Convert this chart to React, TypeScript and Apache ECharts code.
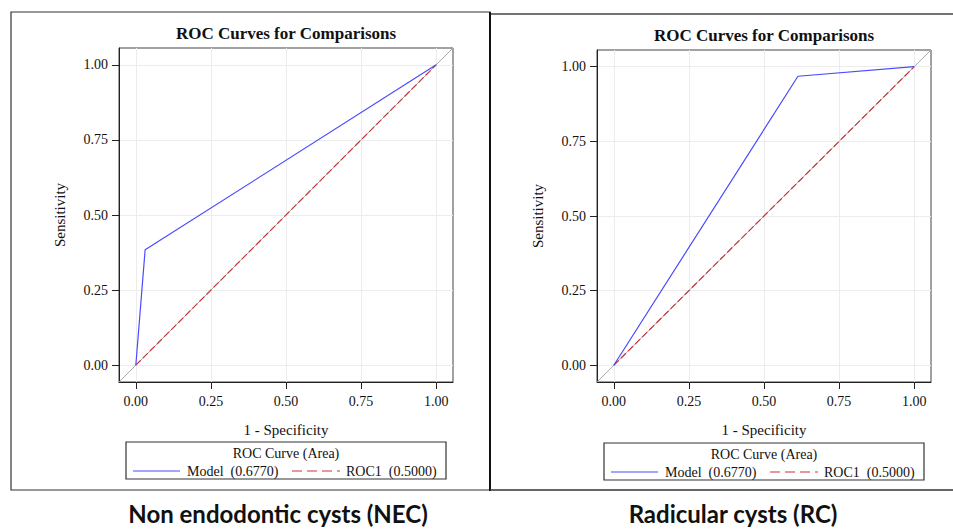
import React, { useEffect, useRef } from "react";
import * as echarts from "echarts";

const tickValues = [0, 0.25, 0.5, 0.75, 1];
const axisMin = -0.056;
const axisMax = 1.056;

const modelNEC: [number, number][] = [[0, 0], [0.031, 0.384], [1, 1]];
const modelRC: [number, number][] = [[0, 0], [0.613, 0.968], [1, 1]];
const roc1: [number, number][] = [[0, 0], [1, 1]];
const diagonal: [number, number][] = [[axisMin, axisMin], [axisMax, axisMax]];

const modelName = "Model\u00a0 (0.6770)";
const roc1Name = "ROC1\u00a0 (0.5000)";
const chartTitle = "ROC Curves for Comparisons";
const xName = "1 - Specificity";
const yName = "Sensitivity";
const legendTitle = "ROC Curve (Area)";
const panelLabels = ["Non endodontic cysts (NEC)", "Radicular cysts (RC)"];

const SERIF = "'Liberation Serif', 'DejaVu Serif', serif";
const BLUE = "#4a4aff";
const RED = "#c8323c";

export default function App() {
  const ref = useRef<HTMLDivElement>(null);
  useEffect(() => {
    if (!ref.current) return;
    const chart = echarts.init(ref.current, null, { renderer: "svg" });

    const grids = [
      { left: 119, top: 48, width: 334, height: 334 },
      { left: 597, top: 50, width: 334, height: 332 },
    ];

    const labelCommon = {
      customValues: tickValues,
      fontFamily: SERIF,
      fontSize: 14,
      color: "#111",
      formatter: (v: number) => v.toFixed(2),
    };

    const mkX = (i: number) => ({
      type: "value",
      gridIndex: i,
      min: axisMin,
      max: axisMax,
      name: xName,
      nameLocation: "middle",
      nameGap: 40,
      nameTextStyle: { fontFamily: SERIF, fontSize: 15, color: "#111" },
      axisLine: { show: true, onZero: false, lineStyle: { color: "#222", width: 1 } },
      axisTick: { show: true, length: 7, customValues: tickValues, lineStyle: { color: "#222" } },
      axisLabel: { ...labelCommon, margin: 12 },
      splitLine: { show: true, lineStyle: { color: "#ececec", width: 1 } },
    });
    const mkY = (i: number) => ({
      type: "value",
      gridIndex: i,
      min: axisMin,
      max: axisMax,
      name: yName,
      nameLocation: "middle",
      nameGap: 52,
      nameTextStyle: { fontFamily: SERIF, fontSize: 15, color: "#111" },
      axisLine: { show: true, onZero: false, lineStyle: { color: "#222", width: 1 } },
      axisTick: { show: true, length: 7, customValues: tickValues, lineStyle: { color: "#222" } },
      axisLabel: { ...labelCommon, margin: 11 },
      splitLine: { show: true, lineStyle: { color: "#ececec", width: 1 } },
    });

    const mkSeries = (i: number, model: [number, number][]) => [
      {
        name: "Reference",
        type: "line",
        xAxisIndex: i,
        yAxisIndex: i,
        data: diagonal,
        symbol: "none",
        silent: true,
        lineStyle: { color: "#a8a8a8", width: 1 },
        z: 1,
      },
      {
        name: roc1Name,
        type: "line",
        xAxisIndex: i,
        yAxisIndex: i,
        data: roc1,
        symbol: "none",
        lineStyle: { color: RED, width: 1.2, type: [7, 3] },
        z: 2,
      },
      {
        name: modelName,
        type: "line",
        xAxisIndex: i,
        yAxisIndex: i,
        data: model,
        symbol: "none",
        lineStyle: { color: BLUE, width: 1.2 },
        z: 3,
      },
    ];

    const textG = (x: number, y: number, text: string, font: string, weight: string, size: number, align = "center") => ({
      type: "text",
      x,
      y,
      style: {
        text,
        fontFamily: font,
        fontWeight: weight,
        fontSize: size,
        fill: "#111",
        textAlign: align,
        textVerticalAlign: "middle",
      },
      silent: true,
    });

    const mkLegend = (left: number, top: number, cx: number) => {
      const rowY = top + 29;
      return [
        { type: "rect", shape: { x: left, y: top, width: 320, height: 37 }, style: { fill: "#fff", stroke: "#333", lineWidth: 1.2 }, silent: true, z: 10 },
        { ...textG(cx, top + 11.5, legendTitle, SERIF, "normal", 14), z: 11 },
        { type: "line", shape: { x1: left + 7, y1: rowY, x2: left + 54, y2: rowY }, style: { stroke: BLUE, lineWidth: 1.2 }, silent: true, z: 11 },
        { ...textG(left + 61, rowY, modelName, SERIF, "normal", 14, "left"), z: 11 },
        { type: "line", shape: { x1: left + 166, y1: rowY, x2: left + 214, y2: rowY }, style: { stroke: RED, lineWidth: 1.2, lineDash: [10, 5] }, silent: true, z: 11 },
        { ...textG(left + 220, rowY, roc1Name, SERIF, "normal", 14, "left"), z: 11 },
      ];
    };

    chart.setOption({
      animation: false,
      backgroundColor: "#fff",
      grid: grids.map((g) => ({ ...g, show: true, borderColor: "#444", borderWidth: 1, containLabel: false })),
      xAxis: [mkX(0), mkX(1)],
      yAxis: [mkY(0), mkY(1)],
      series: [...mkSeries(0, modelNEC), ...mkSeries(1, modelRC)],
      graphic: [
        { type: "rect", shape: { x: 11, y: 12, width: 479, height: 478 }, style: { fill: "none", stroke: "#333", lineWidth: 1.2 }, silent: true },
        { type: "line", shape: { x1: 490, y1: 14, x2: 953, y2: 14 }, style: { stroke: "#444", lineWidth: 1.5 }, silent: true },
        { type: "line", shape: { x1: 490, y1: 12, x2: 490, y2: 491 }, style: { stroke: "#111", lineWidth: 2 }, silent: true },
        { type: "line", shape: { x1: 490, y1: 490, x2: 953, y2: 490 }, style: { stroke: "#333", lineWidth: 1.5 }, silent: true },
        textG(286, 33, chartTitle, SERIF, "bold", 17),
        textG(764, 35, chartTitle, SERIF, "bold", 17),
        ...mkLegend(126, 442, 286),
        ...mkLegend(604, 443, 764),
        textG(278, 513, panelLabels[0], "Lato, 'Open Sans', sans-serif", "bold", 24),
        textG(733, 513, panelLabels[1], "Lato, 'Open Sans', sans-serif", "bold", 24),
      ],
    });
    return () => chart.dispose();
  }, []);
  return (
    <div
      ref={ref}
      style={{ position: "fixed", left: 0, top: 0, width: 953, height: 530 }}
    />
  );
}
